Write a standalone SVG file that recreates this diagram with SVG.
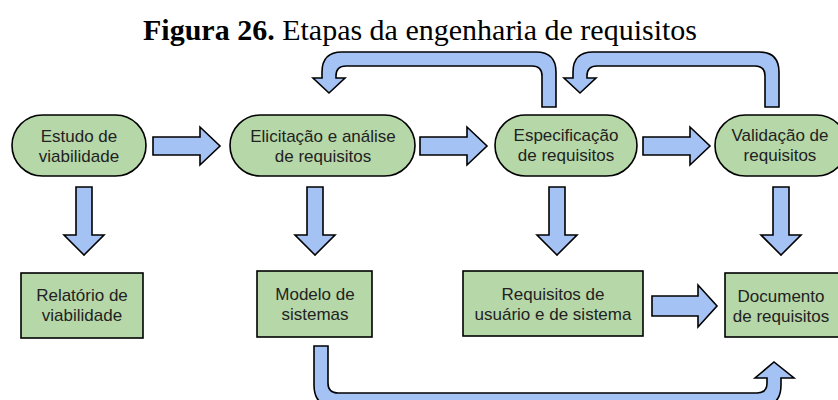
<svg xmlns="http://www.w3.org/2000/svg" width="838" height="400" viewBox="0 0 838 400">
<style>
.node{fill:#b6d7a8;stroke:#000;stroke-width:1.6}
.arr{fill:#a4c2f4;stroke:#000;stroke-width:1.6;stroke-linejoin:miter}
.t{font-family:"Liberation Sans",Arial,sans-serif;font-size:17px;fill:#222;text-anchor:middle}
.title{font-family:"Liberation Serif","Times New Roman",serif;font-size:30px;fill:#000;text-anchor:middle}
</style>
<rect width="838" height="400" fill="#fff"/>
<text class="title" x="420" y="40"><tspan font-weight="bold">Figura 26.</tspan> Etapas da engenharia de requisitos</text>

<g id="connectors">
  <path class="arr" d="M153 137 H200 V127 L220 146 L200 165 V155 H153 Z"/>
  <path class="arr" d="M420 137 H467 V127 L487 146 L467 165 V155 H420 Z"/>
  <path class="arr" d="M643 137 H690 V127 L710 146 L690 165 V155 H643 Z"/>
  <path class="arr" d="M652 296 H698 V285 L717 306 L698 327 V316 H652 Z"/>
  <path class="arr" d="M76 187 H92 V235 H104 L84 255 L64 235 H76 Z"/>
  <path class="arr" d="M307 187 H323 V235 H335 L315 255 L295 235 H307 Z"/>
  <path class="arr" d="M549 187 H565 V235 H577 L557 255 L537 235 H549 Z"/>
  <path class="arr" d="M773 187 H789 V235 H801 L781 255 L761 235 H773 Z"/>
  <path class="arr" d="M542 107 V76 Q542 66 532 66 H346 Q336 66 336 76 V78 H345 L329 93 L313 78 H322 V72 Q322 52 342 52 H536 Q556 52 556 72 V107 Z"/>
  <path class="arr" d="M765 107 V76 Q765 66 755 66 H597 Q587 66 587 76 V78 H596 L580 93 L564 78 H573 V72 Q573 52 593 52 H759 Q779 52 779 72 V107 Z"/>
  <path class="arr" d="M314 346 H328 V383 Q328 393 338 393 H757 Q767 393 767 383 V378 H755 L774 362 L794 378 H781 V385 Q781 407 759 407 H336 Q314 407 314 385 Z"/>
</g>

<g id="estudo">
  <rect class="node" x="12" y="115" width="134" height="61" rx="30.5"/>
  <text class="t" x="79" y="141.5">Estudo de</text>
  <text class="t" x="79" y="161.5">viabilidade</text>
</g>
<g id="elicitacao">
  <rect class="node" x="230" y="115" width="185" height="61" rx="30.5"/>
  <text class="t" x="323" y="142">Elicitação e análise</text>
  <text class="t" x="323" y="162">de requisitos</text>
</g>
<g id="especificacao">
  <rect class="node" x="495" y="115" width="142" height="61" rx="30.5"/>
  <text class="t" x="566" y="141">Especificação</text>
  <text class="t" x="566" y="161">de requisitos</text>
</g>
<g id="validacao">
  <rect class="node" x="715" y="115" width="132" height="61" rx="30.5"/>
  <text class="t" x="780" y="141">Validação de</text>
  <text class="t" x="780" y="161">requisitos</text>
</g>
<g id="relatorio">
  <rect class="node" x="21" y="273" width="122" height="65"/>
  <text class="t" x="82" y="301">Relatório de</text>
  <text class="t" x="82" y="321">viabilidade</text>
</g>
<g id="modelo">
  <rect class="node" x="257" y="271" width="115" height="66"/>
  <text class="t" x="315" y="300">Modelo de</text>
  <text class="t" x="315" y="320">sistemas</text>
</g>
<g id="requisitos">
  <rect class="node" x="463" y="271" width="180" height="65"/>
  <text class="t" x="553" y="300">Requisitos de</text>
  <text class="t" x="553" y="320">usuário e de sistema</text>
</g>
<g id="documento">
  <rect class="node" x="725" y="273" width="118" height="64"/>
  <text class="t" x="781" y="302">Documento</text>
  <text class="t" x="781" y="322">de requisitos</text>
</g>
</svg>
